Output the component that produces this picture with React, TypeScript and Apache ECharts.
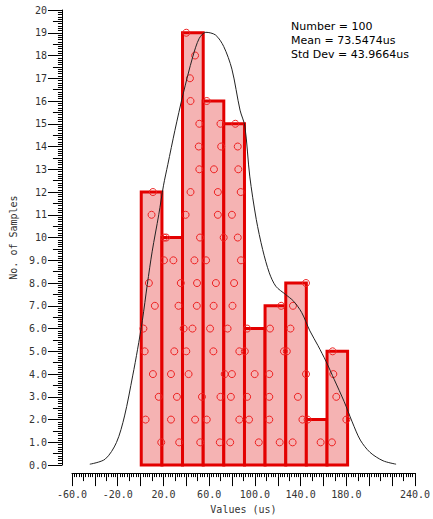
import React, { useEffect, useRef } from 'react';
import * as echarts from 'echarts';

// Histogram bins (us) and counts
const binEdges = [0.6, 18.7, 36.7, 54.8, 72.8, 90.9, 108.9, 127.0, 145.0, 163.1, 181.1];
const binCounts = [12, 10, 19, 16, 15, 6, 7, 8, 2, 5];

// Sample values in each bin, listed by rank inside the bin (rank 1 first)
const bin1 = [18.1, 4.4, 15.9, 10.8, 3.6, 2.5, 12.5, 7.3, 20.5, 20.6, 9.6, 10.8];
const bin2 = [33.8, 26.6, 31.8, 26.6, 29.5, 37.7, 33.2, 35.2, 28.7, 22.4];
const bin3 = [52.2, 47.7, 53.7, 42.0, 40.0, 45.4, 49.2, 49.4, 47.1, 52.0, 39.4, 43.7, 51.4, 50.9, 51.4, 43.7, 43.2, 47.7, 40.0];
const bin4 = [69.3, 57.9, 69.9, 73.6, 63.7, 60.8, 63.9, 65.9, 57.3, 72.7, 67.6, 67.6, 64.2, 70.5, 69.9, 57.9];
const bin5 = [78.4, 86.4, 79.0, 79.9, 86.4, 76.1, 80.4, 81.8, 87.8, 85.0, 79.9, 87.6, 85.5, 85.0, 82.9];
const bin6 = [103.4, 94.9, 93.2, 99.8, 91.2, 93.2];
const bin7 = [121.7, 112.6, 112.6, 112.6, 125.4, 113.2, 123.0];
const bin8 = [133.0, 141.6, 137.6, 144.7, 127.9, 131.1, 133.3, 144.7];
const bin9 = [157.5, 146.1];
const bin10 = [167.4, 180.0, 171.2, 168.6, 168.0];
const binSamples = [bin1, bin2, bin3, bin4, bin5, bin6, bin7, bin8, bin9, bin10];

// Density curve (value, samples)
const curveX = [-44.4, -31, -21.1, -14, -6.9, -2.6, 1.6, 5.9, 10.2, 15.9, 20.1, 23.8, 30, 37.2, 45.7, 51.4, 57.1, 65.6, 72.7, 79.9, 87, 91.2, 95.5, 101.2, 106.8, 112.6, 118.3, 126.8, 133.9, 141, 148.1, 155.2, 162.3, 169.5, 178, 185.1, 192.2, 200.7, 212.1, 223.5];
const curveY = [0.04, 0.26, 0.99, 2.16, 3.92, 5.09, 6.36, 7.94, 9.4, 11.0, 12.3, 13.2, 14.7, 16.3, 17.95, 18.76, 19.02, 18.9, 18.4, 17.4, 15.6, 14.9, 12.7, 10.8, 9.47, 8.45, 7.86, 7.5, 7.2, 6.7, 5.9, 5.25, 4.55, 3.75, 2.8, 1.9, 1.1, 0.56, 0.19, 0.04];

const xTickLabels = [-60, -20, 20, 60, 100, 140, 180, 240];
const statLines = ['Number = 100', 'Mean = 73.5474us', 'Std Dev = 43.9664us'];

const MONO = 'DejaVu Sans Mono';

export default function App() {
  const ref = useRef<HTMLDivElement>(null);
  useEffect(() => {
    const chart = echarts.init(ref.current!, null, { renderer: 'svg' });
    const barData = binCounts.map((c, i) => [binEdges[i], binEdges[i + 1], c]);
    const scatterData = binSamples.flatMap((arr) => arr.map((v, i) => [v, i + 1]));
    const curveData = curveX.map((x, i) => [x, curveY[i]]);
    const black = { color: '#000', width: 1 };
    chart.setOption({
      animation: false,
      grid: { left: 68, top: 10, width: 351, height: 456 },
      xAxis: [
        {
          type: 'value', min: -60, max: 240, interval: 20, position: 'bottom', offset: 8,
          axisLine: { show: true, onZero: false, lineStyle: black },
          axisTick: { show: true, length: 13, lineStyle: black },
          minorTick: { show: true, splitNumber: 10, length: 4, lineStyle: black },
          splitLine: { show: false },
          minorSplitLine: { show: false },
          axisLabel: {
            margin: 16, fontFamily: MONO, fontSize: 10, color: '#333',
            showMinLabel: true, showMaxLabel: true,
            formatter: (v: number) => (xTickLabels.includes(v) ? v.toFixed(1) : ''),
          },
          name: 'Values (us)', nameLocation: 'middle', nameGap: 30,
          nameTextStyle: { fontFamily: MONO, fontSize: 10, color: '#333' },
        },
        {
          type: 'value', min: -60, max: 240, interval: 10, position: 'bottom', offset: 8,
          axisLine: { show: false, onZero: false },
          axisTick: { show: true, length: 8, lineStyle: black },
          axisLabel: { show: false },
          splitLine: { show: false },
        },
      ],
      yAxis: [
        {
          type: 'value', min: 0, max: 20, interval: 1, position: 'left', offset: 10,
          axisLine: { show: true, onZero: false, lineStyle: black },
          axisTick: { show: true, length: 14, lineStyle: black },
          minorTick: { show: true, splitNumber: 10, length: 4, lineStyle: black },
          splitLine: { show: false },
          minorSplitLine: { show: false },
          axisLabel: {
            margin: 15, fontFamily: MONO, fontSize: 10, color: '#333',
            formatter: (v: number) => (v >= 10 ? String(v) : v.toFixed(1)),
          },
          name: 'No. of Samples', nameLocation: 'middle', nameGap: 40,
          nameTextStyle: { fontFamily: MONO, fontSize: 10, color: '#333' },
        },
        {
          type: 'value', min: 0, max: 20, interval: 0.5, position: 'left', offset: 10,
          axisLine: { show: false, onZero: false },
          axisTick: { show: true, length: 9, lineStyle: black },
          axisLabel: { show: false },
          splitLine: { show: false },
        },
      ],
      series: [
        {
          type: 'custom',
          xAxisIndex: 0, yAxisIndex: 0,
          data: barData,
          encode: { x: [0, 1], y: 2 },
          renderItem: (params: any, api: any) => {
            const p0 = api.coord([api.value(0), api.value(2)]);
            const p1 = api.coord([api.value(1), 0]);
            return {
              type: 'rect',
              shape: { x: p0[0], y: p0[1], width: p1[0] - p0[0], height: p1[1] - p0[1] },
              style: { fill: '#f5b3b3', stroke: '#e30000', lineWidth: 3 },
            };
          },
          z: 2,
        },
        {
          type: 'scatter',
          xAxisIndex: 0, yAxisIndex: 0,
          data: scatterData,
          symbol: 'circle',
          symbolSize: 7,
          itemStyle: { color: 'rgba(0,0,0,0)', borderColor: '#ee2222', borderWidth: 1, opacity: 1 },
          z: 3,
        },
        {
          type: 'line',
          xAxisIndex: 0, yAxisIndex: 0,
          data: curveData,
          smooth: 0.3,
          showSymbol: false,
          symbol: 'none',
          lineStyle: { color: '#222', width: 1 },
          z: 4,
        },
      ],
      graphic: statLines.map((t, i) => ({
        type: 'text',
        left: 291,
        top: 21 + i * 14,
        style: { text: t, fontFamily: 'DejaVu Sans', fontSize: 11, fill: '#000' },
      })),
    });
    return () => chart.dispose();
  }, []);
  return <div ref={ref} style={{ position: 'absolute', left: 0, top: 0, width: 433, height: 519 }} />;
}
